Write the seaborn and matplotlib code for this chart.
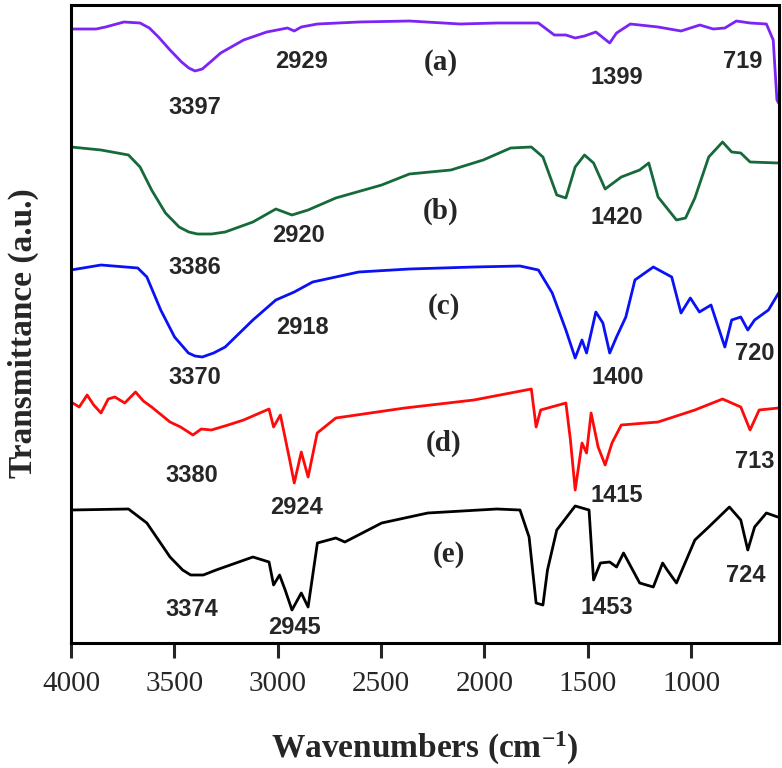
import numpy as np
import pandas as pd
import matplotlib
matplotlib.use("Agg")
import matplotlib.pyplot as plt
import seaborn as sns

# ---------------- data ----------------
wn_a = [4000, 4000, 3878, 3833, 3744, 3666, 3621, 3577, 3521, 3465, 3430, 3400, 3365, 3320, 3276, 3165, 3053, 2953,
        2920, 2886, 2808, 2608, 2363, 2118, 1940, 1739, 1662, 1606, 1561, 1516, 1461, 1394, 1361, 1294,
        1160, 1049, 958, 893, 837, 781, 715, 636, 603, 585, 577]
tr_a = [511, 614, 614, 616, 621, 620, 615, 606, 593, 581, 575, 572, 574, 582, 590, 603, 611, 615,
        612, 616, 619, 621, 622, 619, 620, 620, 608, 608, 605, 607, 611, 600, 610, 619,
        616, 612, 618, 614, 615, 622, 620, 619, 603, 543, 540]

wn_b = [4000, 4000, 3855, 3722, 3666, 3610, 3543, 3477, 3430, 3388, 3320, 3254, 3120, 3009, 2931, 2853, 2719, 2497,
        2363, 2162, 2006, 1873, 1773, 1717, 1650, 1606, 1561, 1516, 1472, 1416, 1338, 1249, 1205, 1160,
        1071, 1027, 982, 915, 848, 804, 760, 715, 577]
tr_b = [390, 496, 493, 488, 476, 453, 430, 416, 411, 409, 409, 411, 421, 434, 428, 433, 445, 458,
        469, 473, 483, 495, 496, 486, 448, 445, 476, 488, 480, 454, 466, 473, 480, 446,
        423, 425, 445, 486, 501, 491, 490, 481, 480]

wn_c = [4000, 4000, 3855, 3677, 3633, 3566, 3499, 3432, 3400, 3365, 3310, 3254, 3120, 3009, 2920, 2831, 2608, 2363,
        2051, 1828, 1739, 1672, 1606, 1561, 1528, 1506, 1461, 1427, 1394, 1361, 1316, 1272, 1183, 1094,
        1049, 1004, 960, 904, 837, 804, 760, 726, 693, 626, 577]
tr_c = [270, 373, 378, 375, 366, 333, 306, 290, 287, 286, 290, 296, 323, 343, 351, 361, 371, 374,
        376, 377, 373, 350, 313, 285, 303, 290, 331, 320, 290, 306, 326, 363, 376, 366,
        330, 345, 331, 338, 296, 323, 326, 313, 323, 333, 350]

wn_d = [4000, 3960, 3922, 3890, 3855, 3820, 3788, 3740, 3688, 3650, 3610, 3521, 3470, 3410, 3370, 3321,
        3240, 3165, 3042, 3020, 2987, 2942, 2920, 2886, 2853, 2809, 2719, 2385, 2051, 1773, 1750, 1728,
        1606, 1584, 1561, 1528, 1506, 1484, 1450, 1416, 1383, 1338, 1160, 982, 848, 760, 715, 671, 577]
tr_d = [241, 236, 248, 238, 230, 244, 246, 240, 251, 242, 236, 221, 216, 208, 214, 213,
        218, 223, 234, 216, 228, 183, 160, 191, 166, 210, 225, 235, 243, 254, 216, 233,
        240, 203, 153, 200, 190, 230, 196, 178, 200, 218, 221, 233, 244, 236, 213, 233, 235]

wn_e = [4000, 3722, 3633, 3521, 3460, 3421, 3360, 3298, 3120, 3042, 3020, 2991, 2964, 2931, 2886, 2853, 2808, 2719,
        2675, 2497, 2274, 1940, 1828, 1784, 1750, 1717, 1695, 1650, 1561, 1494, 1472, 1439, 1394, 1361,
        1327, 1249, 1183, 1138, 1116, 1071, 982, 915, 815, 760, 726, 693, 636, 581]
tr_e = [133, 134, 120, 86, 73, 68, 68, 73, 86, 81, 58, 68, 53, 33, 50, 36, 100, 105,
        101, 120, 130, 134, 133, 106, 40, 38, 73, 113, 137, 133, 63, 80, 81, 76,
        90, 60, 56, 80, 73, 60, 103, 116, 136, 123, 93, 116, 130, 126]

samples = ["(a)", "(b)", "(c)", "(d)", "(e)"]
colors = ["#7b24f5", "#16693a", "#0a12f5", "#ff0a0a", "#000000"]

peak_labels = ["3397", "2929", "1399", "719",
               "3386", "2920", "1420",
               "3370", "2918", "1400", "720",
               "3380", "2924", "1415", "713",
               "3374", "2945", "1453", "724"]

# ---------------- layout (annotation positions) ----------------
peak_pos = [(3400, 536), (2883, 581), (1360, 565), (751, 581),
            (3400, 376), (2898, 408), (1360, 426),
            (3400, 265), (2878, 316), (1355, 265), (693, 290),
            (3415, 167), (2907, 136), (1360, 147), (693, 182),
            (3415, 33), (2917, 15), (1409, 36), (737, 67)]
sample_pos = [(2211, 581), (2211, 432), (2197, 336), (2197, 200), (2172, 89)]

frames = []
for s, w, t in zip(samples, [wn_a, wn_b, wn_c, wn_d, wn_e], [tr_a, tr_b, tr_c, tr_d, tr_e]):
    frames.append(pd.DataFrame({"wavenumber": w, "T": t, "sample": s}))
df = pd.concat(frames, ignore_index=True)

sns.set_style("white")
plt.rcParams["mathtext.fontset"] = "custom"
plt.rcParams["mathtext.bf"] = "Liberation Serif:bold"
plt.rcParams["mathtext.rm"] = "Liberation Serif:bold"
plt.rcParams["mathtext.default"] = "bf"

serif = "Liberation Serif"
sans = "Liberation Sans"

fig = plt.figure(figsize=(7.82, 7.68), dpi=100)
ax = fig.add_axes([71 / 782, 1 - 643 / 768, (779 - 71) / 782, (643 - 5) / 768])

sns.lineplot(data=df, x="wavenumber", y="T", hue="sample", palette=dict(zip(samples, colors)),
             sort=False, estimator=None, units="sample", linewidth=2.0, legend=False, ax=ax)

ax.set_xlim(4000, 575)
ax.set_ylim(0, 638)
ax.set_yticks([])
ax.set_xticks([4000, 3500, 3000, 2500, 2000, 1500, 1000])
ax.tick_params(axis="x", direction="out", length=11, width=2.2, pad=9, labelsize=21, bottom=True)
for lab in ax.get_xticklabels():
    lab.set_fontfamily(serif)
for sp in ax.spines.values():
    sp.set_linewidth(2.2)
    sp.set_color("black")

ax.set_xlabel("Wavenumbers (cm$^{-1}$)", fontfamily=serif, fontweight="bold", fontsize=24, labelpad=24)
ax.set_ylabel("Transmittance (a.u.)", fontfamily=serif, fontweight="bold", fontsize=24)
ax.yaxis.set_label_coords(-0.045, 0.485)

for txt, (x, y) in zip(peak_labels, peak_pos):
    ax.text(x, y, txt, ha="center", va="center", fontsize=17, fontweight="bold", family=sans)
for txt, (x, y) in zip(samples, sample_pos):
    ax.text(x, y, txt, ha="center", va="center", fontsize=21, fontweight="bold", family=serif)

fig.savefig("out.png", dpi=100)
